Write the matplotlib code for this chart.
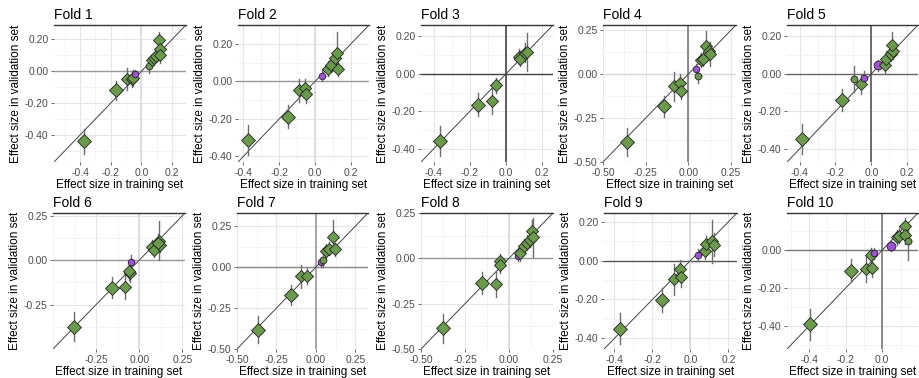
import matplotlib as mpl
from matplotlib import pyplot as plt
from matplotlib.ticker import AutoMinorLocator, FormatStrFormatter

mpl.rcParams["font.family"] = ["Liberation Sans", "DejaVu Sans"]

GREEN = "#699b4b"
PURPLE = "#a24fdc"

# per fold: training effect, validation effect, validation error, kind
# kind: D large diamond, d small diamond, c green circle, p/P purple circle
train = {
    1: [-0.375, -0.165, -0.095, -0.06, -0.055, -0.045, 0.05, 0.07, 0.082, 0.097, 0.112, 0.122, 0.118],
    2: [-0.376, -0.15, -0.092, -0.055, -0.051, 0.04, 0.073, 0.088, 0.11, 0.121, 0.128],
    3: [-0.364, -0.153, -0.077, -0.054, 0.07, 0.079, 0.106, 0.117],
    4: [-0.359, -0.145, -0.083, -0.048, -0.043, 0.043, 0.058, 0.072, 0.087, 0.103, 0.122, 0.126],
    5: [-0.387, -0.162, -0.098, -0.058, -0.041, 0.038, 0.075, 0.083, 0.107, 0.12, 0.116],
    6: [-0.376, -0.159, -0.085, -0.056, -0.058, -0.047, 0.074, 0.087, 0.116, 0.122, 0.109],
    7: [-0.369, -0.156, -0.094, -0.056, 0.033, 0.044, 0.065, 0.085, 0.11, 0.121],
    8: [-0.374, -0.152, -0.075, -0.053, -0.049, 0.053, 0.065, 0.083, 0.102, 0.118, 0.128, 0.134],
    9: [-0.372, -0.149, -0.088, -0.056, -0.049, 0.04, 0.074, 0.082, 0.114, 0.126],
    10: [-0.392, -0.17, -0.091, -0.057, -0.062, -0.043, 0.047, 0.079, 0.094, 0.126, 0.123, 0.142],
}
valid = {
    1: [-0.44, -0.12, -0.05, -0.05, -0.04, -0.02, 0.03, 0.07, 0.08, 0.095, 0.195, 0.14, 0.10],
    2: [-0.315, -0.188, -0.048, -0.036, -0.068, 0.03, 0.066, 0.088, 0.122, 0.152, 0.066],
    3: [-0.359, -0.164, -0.144, -0.061, 0.09, 0.079, 0.112, 0.117],
    4: [-0.386, -0.182, -0.07, -0.05, -0.093, 0.027, -0.008, 0.081, 0.089, 0.163, 0.13, 0.114],
    5: [-0.348, -0.139, -0.027, -0.055, -0.023, 0.045, 0.045, 0.08, 0.107, 0.12, 0.155],
    6: [-0.374, -0.155, -0.151, -0.073, -0.061, -0.009, 0.073, 0.056, 0.11, 0.084, 0.097],
    7: [-0.381, -0.169, -0.056, -0.056, 0.033, 0.041, 0.099, 0.113, 0.185, 0.109],
    8: [-0.385, -0.135, -0.141, -0.015, -0.039, 0.013, 0.028, 0.069, 0.087, 0.1, 0.152, 0.115],
    9: [-0.351, -0.202, -0.096, -0.045, -0.084, 0.03, 0.047, 0.086, 0.1, 0.082],
    10: [-0.391, -0.109, -0.1, -0.092, -0.028, -0.017, 0.024, 0.068, 0.076, 0.128, 0.081, 0.05],
}
valid_err = {
    1: [0.08, 0.06, 0.07, 0.05, 0.05, 0.03, 0.04, 0.04, 0.04, 0.04, 0.05, 0.05, 0.05],
    2: [0.08, 0.06, 0.06, 0.05, 0.05, 0.03, 0.04, 0.04, 0.04, 0.11, 0.04],
    3: [0.08, 0.06, 0.07, 0.04, 0.04, 0.04, 0.05, 0.1],
    4: [0.08, 0.06, 0.08, 0.05, 0.05, 0.03, 0.04, 0.04, 0.04, 0.08, 0.05, 0.07],
    5: [0.08, 0.06, 0.07, 0.05, 0.04, 0.03, 0.04, 0.04, 0.04, 0.04, 0.07],
    6: [0.08, 0.06, 0.07, 0.05, 0.05, 0.04, 0.04, 0.04, 0.11, 0.04, 0.05],
    7: [0.08, 0.06, 0.07, 0.05, 0.03, 0.04, 0.04, 0.04, 0.1, 0.04],
    8: [0.08, 0.06, 0.07, 0.04, 0.04, 0.03, 0.04, 0.04, 0.04, 0.04, 0.06, 0.11],
    9: [0.08, 0.06, 0.08, 0.05, 0.05, 0.03, 0.04, 0.04, 0.11, 0.06],
    10: [0.08, 0.06, 0.07, 0.05, 0.04, 0.03, 0.03, 0.04, 0.04, 0.04, 0.05, 0.1],
}
kinds = {
    1: "DDdddpcdddddd",
    2: "DDdddpddddd",
    3: "DDdddddd",
    4: "DDdddpcddddd",
    5: "DDcdpPddddd",
    6: "DDdddpddddd",
    7: "DDddpcdddd",
    8: "DDdddpdddddd",
    9: "DDdddpdddd",
    10: "DDdddpPddddc",
}
train_err = 0.02

limits = {
    1: (-0.57, 0.29), 2: (-0.43, 0.30), 3: (-0.47, 0.26), 4: (-0.50, 0.28), 5: (-0.47, 0.26),
    6: (-0.50, 0.265), 7: (-0.50, 0.33), 8: (-0.50, 0.25), 9: (-0.455, 0.245), 10: (-0.52, 0.195),
}
x_ticks = {
    1: [-0.4, -0.2, 0.0, 0.2], 2: [-0.4, -0.2, 0.0, 0.2], 3: [-0.4, -0.2, 0.0, 0.2],
    4: [-0.5, -0.25, 0.0, 0.25], 5: [-0.4, -0.2, 0.0, 0.2], 6: [-0.25, 0.0, 0.25],
    7: [-0.5, -0.25, 0.0, 0.25], 8: [-0.5, -0.25, 0.0, 0.25], 9: [-0.4, -0.2, 0.0, 0.2],
    10: [-0.4, -0.2, 0.0],
}
y_ticks = {
    1: [-0.4, -0.2, 0.0, 0.2], 2: [-0.4, -0.2, 0.0, 0.2], 3: [-0.4, -0.2, 0.0, 0.2],
    4: [-0.5, -0.25, 0.0, 0.25], 5: [-0.4, -0.2, 0.0, 0.2], 6: [-0.25, 0.0, 0.25],
    7: [-0.5, -0.25, 0.0, 0.25], 8: [-0.5, -0.25, 0.0, 0.25], 9: [-0.4, -0.2, 0.0, 0.2],
    10: [-0.4, -0.2, 0.0],
}
x_fmt = {1: "%.1f", 2: "%.1f", 3: "%.1f", 4: "%.2f", 5: "%.1f", 6: "%.2f", 7: "%.2f", 8: "%.2f", 9: "%.1f", 10: "%.1f"}
# zero line darkness per panel (horizontal, vertical)
zero_col = {
    1: ("#9a9a9a", "#d9d9d9"), 2: ("#9a9a9a", "#d9d9d9"), 3: ("#444444", "#444444"),
    4: ("#d9d9d9", "#777777"), 5: ("#666666", "#555555"), 6: ("#9a9a9a", "#d9d9d9"),
    7: ("#888888", "#9a9a9a"), 8: ("#9a9a9a", "#d9d9d9"), 9: ("#555555", "#d9d9d9"),
    10: ("#777777", "#777777"),
}

fig = plt.figure(figsize=(9.19, 3.78), dpi=100)
W, H = 919, 378
lefts = [[54, 238, 421, 603, 787], [53, 237, 421, 604, 787]]
tops = [25, 213]
bottoms = [162, 349]
widths = [132, 131, 132, 133, 131]

marker_style = {
    "D": dict(marker="D", s=50, color=GREEN),
    "d": dict(marker="D", s=38, color=GREEN),
    "c": dict(marker="o", s=24, color=GREEN),
    "p": dict(marker="o", s=22, color=PURPLE),
    "P": dict(marker="o", s=40, color=PURPLE),
}

for fold in range(1, 11):
    r, c = divmod(fold - 1, 5)
    ax = fig.add_axes([
        lefts[r][c] / W,
        (H - bottoms[r]) / H,
        widths[c] / W,
        (bottoms[r] - tops[r]) / H,
    ])
    lo, hi = limits[fold]
    ax.set_xlim(lo, hi)
    ax.set_ylim(lo, hi)

    ax.set_xticks(x_ticks[fold])
    ax.set_yticks(y_ticks[fold])
    ax.xaxis.set_major_formatter(FormatStrFormatter(x_fmt[fold]))
    ax.yaxis.set_major_formatter(FormatStrFormatter("%.2f"))
    ax.xaxis.set_minor_locator(AutoMinorLocator(2))
    ax.yaxis.set_minor_locator(AutoMinorLocator(2))
    ax.grid(which="major", color="#e6e6e6", lw=0.8)
    ax.grid(which="minor", color="#f3f3f3", lw=0.6)
    ax.set_axisbelow(True)
    ax.tick_params(which="major", length=2.5, width=0.6, color="#555555",
                   labelsize=7.5, labelcolor="#4d4d4d", pad=1.5)
    ax.tick_params(which="minor", length=0)
    for side in ("left", "right", "bottom"):
        ax.spines[side].set_visible(False)
    ax.spines["top"].set_color("#333333")
    ax.spines["top"].set_linewidth(1.0)

    hcol, vcol = zero_col[fold]
    ax.axhline(0, color=hcol, lw=1.0, zorder=1)
    ax.axvline(0, color=vcol, lw=1.2, zorder=1)
    ax.plot([lo, hi], [lo, hi], color="#444444", lw=0.7, zorder=2)

    xs, ys, es, ks = train[fold], valid[fold], valid_err[fold], kinds[fold]
    for x, y, e in zip(xs, ys, es):
        ax.plot([x - train_err, x + train_err], [y, y], color="#b0b0b0", lw=1.0, zorder=3)
        ax.plot([x, x], [y - e, y + e], color="#6e6e6e", lw=1.0, zorder=3)
    for x, y, k in zip(xs, ys, ks):
        st = marker_style[k]
        ax.scatter([x], [y], marker=st["marker"], s=st["s"], color=st["color"],
                   edgecolor="#222222", linewidth=0.6, zorder=4)

    ax.set_title(f"Fold {fold}", loc="left", fontsize=10, pad=4)
    ax.set_xlabel("Effect size in training set", fontsize=8.5, labelpad=1)
    ax.set_ylabel("Effect size in validation set", fontsize=8.5, labelpad=2)

fig.savefig("out.png", dpi=100)
plt.close(fig)
